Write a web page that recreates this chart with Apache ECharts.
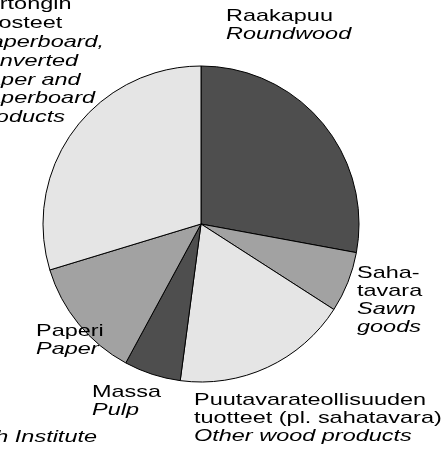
<!DOCTYPE html>
<html>
<head>
<meta charset="utf-8">
<script src="https://cdn.jsdelivr.net/npm/echarts@6/dist/echarts.min.js"></script>
<style>
  html, body { margin: 0; padding: 0; background: #fff; }
  #chart { width: 446px; height: 450px; }
</style>
</head>
<body>
<div id="chart"></div>
<script>
// Shares of forest-industry product groups (%)
const categories = [
  'Raakapuu', 'Sahatavara', 'Puutavarateollisuuden tuotteet',
  'Massa', 'Paperi', 'Kartonki ja jalosteet'
];
const shares = [27.9, 6.2, 18.0, 5.8, 12.4, 29.7];

// Finnish and English label lines for each slice
const labelFi = [
  ['Raakapuu'],
  ['Saha-', 'tavara'],
  ['Puutavarateollisuuden', 'tuotteet (pl. sahatavara)'],
  ['Massa'],
  ['Paperi'],
  ['Kartonki, paperin ja', 'kartongin', 'jalosteet']
];
const labelEn = [
  ['Roundwood'],
  ['Sawn', 'goods'],
  ['Other wood products'],
  ['Pulp'],
  ['Paper'],
  ['Paperboard,', 'converted', 'paper and', 'paperboard', 'products']
];
const sourceText = 'Source: Finnish Forest Research Institute';

// Styling and placement
const sliceColors = ['#4e4e4e', '#a2a2a2', '#e5e5e5', '#4e4e4e', '#a2a2a2', '#e5e5e5'];
const labelBox = [
  { x: 226, y: 7.5, lh: 17.8 },
  { x: 357, y: 264.5, lh: 17.8 },
  { x: 194, y: 391.5, lh: 18 },
  { x: 92, y: 383.5, lh: 18 },
  { x: 36, y: 322.5, lh: 18 },
  { x: -25, y: -23.5, lh: 18.8 }
];
const FONT = '"Liberation Sans", Arial, Helvetica, sans-serif';
const FONT_SIZE = 17;
const STRETCH = 1.38;

function labelGraphic(i) {
  const lines = labelFi[i].map(t => '{fi|' + t + '}')
    .concat(labelEn[i].map(t => '{en|' + t + '}'));
  const lh = labelBox[i].lh;
  return {
    type: 'text',
    x: labelBox[i].x,
    y: labelBox[i].y,
    z: 100,
    scaleX: STRETCH,
    silent: true,
    style: {
      text: lines.join('\n'),
      align: 'left',
      verticalAlign: 'top',
      fill: '#000',
      rich: {
        fi: { fontFamily: FONT, fontSize: FONT_SIZE, lineHeight: lh, fill: '#000' },
        en: { fontFamily: FONT, fontSize: FONT_SIZE, lineHeight: lh, fill: '#000', fontStyle: 'italic' }
      }
    }
  };
}

const graphics = categories.map((_, i) => labelGraphic(i));
graphics.push({
  type: 'text',
  x: 97,
  y: 428.5,
  z: 100,
  scaleX: STRETCH,
  silent: true,
  style: {
    text: sourceText,
    align: 'right',
    verticalAlign: 'top',
    fill: '#000',
    font: 'italic ' + FONT_SIZE + 'px ' + FONT,
    lineHeight: 18
  }
});

const chart = echarts.init(document.getElementById('chart'), null, { renderer: 'canvas' });
chart.setOption({
  animation: false,
  backgroundColor: '#fff',
  series: [{
    type: 'pie',
    center: [201, 224],
    radius: [0, 158],
    startAngle: 90,
    clockwise: true,
    avoidLabelOverlap: false,
    label: { show: false },
    labelLine: { show: false },
    emphasis: { disabled: true },
    itemStyle: { borderColor: '#000', borderWidth: 1 },
    data: categories.map((name, i) => ({
      name: name,
      value: shares[i],
      itemStyle: { color: sliceColors[i] }
    }))
  }],
  graphic: graphics
});
</script>
</body>
</html>
